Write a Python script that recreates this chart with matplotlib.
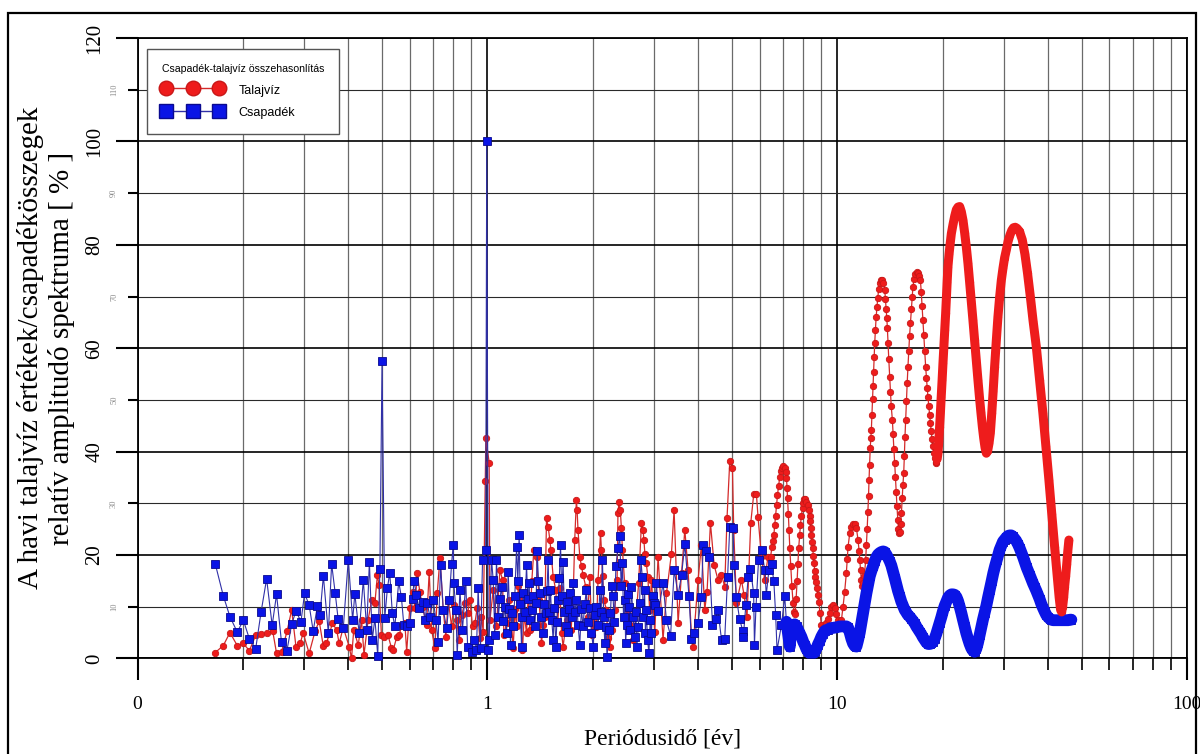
import numpy as np
import matplotlib
matplotlib.use("Agg")
import matplotlib.pyplot as plt
from matplotlib.lines import Line2D
from matplotlib.patches import Rectangle
from matplotlib.ticker import (FixedLocator, FixedFormatter, NullFormatter,
                               LogLocator, MultipleLocator, StrMethodFormatter)

# talajvíz spektrum (periódus [év], relatív amplitúdó [%])
talaj_noisy = [
    (0.1665, 1.1), (0.1759, 2.5), (0.1837, 5.0), (0.1928, 2.5), (0.2007, 2.9), (0.2088, 1.5),
    (0.2180, 4.6), (0.2259, 4.7), (0.2339, 5.0), (0.2433, 5.4), (0.2497, 1.0), (0.2580, 1.3),
    (0.2679, 5.4), (0.2758, 9.4), (0.2837, 2.3), (0.2915, 2.9), (0.2976, 4.9), (0.3095, 1.0),
    (0.3221, 5.4), (0.3307, 7.2), (0.3394, 2.5), (0.3467, 2.9), (0.3608, 6.8), (0.3710, 5.5),
    (0.3770, 2.9), (0.3873, 6.0), (0.4027, 2.3), (0.4090, 0.0), (0.4150, 5.5), (0.4275, 2.6),
    (0.4370, 7.4), (0.4440, 0.7), (0.4560, 7.4), (0.4670, 11.3), (0.4770, 10.7), (0.4850, 16.2),
    (0.4900, 14.2), (0.4980, 4.5), (0.5060, 4.2), (0.5200, 4.5), (0.5320, 2.0), (0.5380, 1.6),
    (0.5510, 4.2), (0.5600, 4.5), (0.5690, 6.5), (0.5810, 6.8), (0.5880, 1.3), (0.6000, 9.7),
    (0.6110, 12.9), (0.6210, 9.7), (0.6300, 16.5), (0.6410, 12.9), (0.6530, 10.0), (0.6700, 6.5),
    (0.6820, 16.8), (0.6930, 5.5), (0.7080, 2.0), (0.7190, 12.6), (0.7320, 19.4), (0.7480, 9.4),
    (0.7610, 4.2), (0.7730, 11.3), (0.7900, 6.2), (0.8020, 10.3), (0.8170, 7.4), (0.8310, 3.6),
    (0.8440, 8.4), (0.8620, 10.7), (0.8780, 8.7), (0.8910, 11.3), (0.9070, 6.2), (0.9210, 6.8),
    (0.9350, 9.7), (0.9520, 3.9), (0.9620, 8.1), (0.9730, 5.2), (0.9860, 34.3), (0.9900, 42.6),
    (1.0120, 37.9), (1.0170, 7.4), (1.039, 13.2), (1.062, 6.2), (1.086, 17.1), (1.105, 15.2),
    (1.115, 4.5), (1.135, 6.8), (1.154, 11.3), (1.170, 8.0), (1.185, 2.0), (1.200, 9.5),
    (1.212, 6.2), (1.225, 14.0), (1.238, 11.3), (1.260, 1.6), (1.275, 8.5), (1.294, 4.9),
    (1.308, 12.0), (1.323, 5.5), (1.340, 15.0), (1.358, 21.0), (1.382, 19.7), (1.406, 11.3),
    (1.428, 2.9), (1.445, 6.5), (1.459, 8.1), (1.476, 27.1), (1.492, 25.5), (1.509, 22.9),
    (1.519, 21.0), (1.542, 15.8), (1.569, 13.2), (1.590, 7.0), (1.611, 13.6), (1.630, 5.0),
    (1.646, 2.3), (1.684, 7.4), (1.713, 11.3), (1.735, 5.5), (1.758, 11.3), (1.777, 22.9),
    (1.797, 30.7), (1.805, 28.7), (1.816, 24.9), (1.837, 19.7), (1.859, 17.8), (1.877, 16.2),
    (1.911, 13.9), (1.935, 8.0), (1.962, 15.8), (1.990, 4.5), (2.028, 9.4), (2.050, 6.0),
    (2.072, 15.2), (2.106, 24.2), (2.119, 21.0), (2.135, 16.0), (2.153, 11.3), (2.190, 9.4),
    (2.210, 4.0), (2.237, 2.3), (2.276, 5.5), (2.312, 9.4), (2.349, 15.2), (2.362, 28.1),
    (2.379, 30.3), (2.399, 28.7), (2.416, 25.2), (2.433, 21.0), (2.469, 14.5), (2.495, 7.5),
    (2.524, 9.4), (2.564, 6.5), (2.607, 3.6), (2.665, 8.7), (2.706, 14.5), (2.757, 26.2),
    (2.786, 24.9), (2.802, 22.9), (2.820, 20.3), (2.847, 18.4), (2.875, 15.8), (2.910, 9.4),
    (2.945, 15.2), (3.010, 5.2), (3.076, 19.7), (3.178, 3.6), (3.251, 12.6), (3.359, 20.3),
    (3.418, 28.7), (3.509, 6.8), (3.590, 16.5), (3.668, 24.9), (3.748, 17.1), (3.833, 4.2),
    (3.873, 2.3), (4.002, 15.2), (4.093, 22.0), (4.182, 9.4), (4.246, 12.9), (4.342, 26.2),
    (4.450, 18.0), (4.564, 15.2), (4.667, 16.2), (4.770, 13.9), (4.842, 27.1), (4.930, 38.1),
    (5.018, 36.8), (5.061, 24.9), (5.152, 10.7), (5.324, 15.2), (5.416, 12.3), (5.524, 8.1),
    (5.661, 26.2), (5.773, 31.8), (5.876, 31.8), (5.938, 27.4), (6.073, 19.7), (6.206, 15.2),
    (6.342, 19.7),
]

talaj_peaks = [
    (6.45, 19.7), (6.51, 21.6), (6.55, 22.8), (6.59, 23.9), (6.63, 25.8), (6.67, 27.6),
    (6.71, 29.6), (6.75, 31.6), (6.80, 33.4), (6.85, 35.0), (6.90, 36.2), (6.95, 36.9),
    (7.01, 37.2), (7.08, 36.9), (7.13, 36.0), (7.16, 34.9), (7.19, 33.0), (7.21, 31.0),
    (7.25, 28.0), (7.28, 24.9), (7.32, 21.3), (7.37, 17.8), (7.42, 14.0), (7.48, 10.7),
    (7.53, 9.0), (7.58, 8.6), (7.63, 11.5), (7.68, 15.0), (7.72, 18.3), (7.76, 21.3),
    (7.81, 23.8), (7.85, 25.8), (7.90, 27.6), (7.96, 29.1), (8.00, 30.1), (8.04, 30.8),
    (8.10, 30.9), (8.17, 30.3), (8.24, 29.6), (8.31, 28.7), (8.35, 27.6), (8.38, 26.5),
    (8.41, 25.2), (8.44, 23.9), (8.48, 22.6), (8.51, 21.3), (8.55, 19.8), (8.59, 18.4),
    (8.62, 17.0), (8.66, 15.8), (8.71, 14.7), (8.76, 13.6), (8.81, 12.3), (8.86, 11.0),
    (8.93, 8.7), (9.01, 6.5), (9.10, 5.8), (9.20, 6.2), (9.31, 6.8), (9.40, 7.6),
    (9.52, 8.7), (9.63, 10.0), (9.73, 10.3), (9.84, 9.8), (9.94, 8.6), (10.05, 7.4),
    (10.17, 7.0), (10.28, 7.4), (10.39, 10.0), (10.50, 12.8), (10.62, 16.5), (10.68, 19.2),
    (10.74, 21.6), (10.86, 24.2), (10.98, 25.5), (11.10, 26.1), (11.22, 26.0), (11.35, 25.2),
    (11.47, 22.9), (11.55, 20.8), (11.60, 19.1), (11.66, 17.2), (11.72, 15.2), (11.80, 14.0),
    (11.88, 14.6), (11.96, 16.0), (12.06, 19.0), (12.12, 22.0), (12.18, 25.0), (12.24, 28.4),
    (12.29, 31.4), (12.33, 34.5), (12.38, 37.5), (12.43, 40.8), (12.48, 42.6), (12.52, 44.2),
    (12.57, 47.0), (12.62, 50.2), (12.66, 52.6), (12.71, 55.5), (12.76, 58.4), (12.80, 61.0),
    (12.86, 63.5), (12.92, 66.0), (12.99, 68.0), (13.06, 69.8), (13.14, 71.4), (13.23, 72.6),
    (13.34, 73.2), (13.46, 73.2), (13.56, 72.6), (13.67, 71.3), (13.74, 69.5), (13.80, 67.5),
    (13.86, 65.9), (13.91, 64.0), (13.97, 61.0), (14.04, 58.0), (14.13, 54.5), (14.20, 51.5),
    (14.27, 48.8), (14.38, 46.1), (14.44, 43.5), (14.52, 40.5), (14.60, 37.8), (14.67, 35.0),
    (14.75, 32.2), (14.82, 29.4), (14.90, 26.8), (14.96, 25.0), (15.02, 24.2), (15.09, 24.5),
    (15.17, 26.0), (15.26, 28.1), (15.34, 31.0), (15.41, 33.5), (15.49, 35.8), (15.56, 39.2),
    (15.62, 42.8), (15.69, 46.1), (15.77, 49.8), (15.85, 53.2), (15.93, 56.4), (16.02, 59.5),
    (16.10, 62.3), (16.19, 64.8), (16.28, 67.5), (16.37, 69.9), (16.46, 71.9), (16.58, 73.3),
    (16.72, 74.4), (16.86, 74.8), (16.99, 74.6), (17.14, 74.0), (17.29, 73.2), (17.39, 70.8),
    (17.48, 68.2), (17.58, 65.5), (17.68, 62.5), (17.79, 59.5), (17.90, 56.4), (17.99, 54.3),
    (18.08, 52.4), (18.17, 50.6), (18.27, 48.8), (18.37, 47.1), (18.46, 45.5), (18.57, 43.9),
    (18.67, 42.4), (18.78, 41.0), (18.89, 39.8), (19.00, 38.7), (19.12, 37.8), (19.22, 38.0),
    (19.31, 38.6),
]

talaj_band = [
    (19.41, 39.7), (19.52, 42.0), (19.62, 44.7), (19.72, 47.4), (19.83, 50.6), (19.95, 53.9),
    (20.06, 57.1), (20.18, 60.3), (20.30, 63.6), (20.42, 66.8), (20.52, 69.8), (20.62, 72.8),
    (20.73, 75.8), (20.88, 78.2), (21.04, 80.3), (21.20, 82.2), (21.44, 84.0), (21.68, 85.6),
    (21.91, 86.8), (22.15, 87.3), (22.39, 87.4), (22.64, 86.4), (22.88, 84.8), (23.14, 82.3),
    (23.40, 79.5), (23.65, 76.4), (23.90, 72.9), (24.16, 69.2), (24.43, 65.5), (24.70, 61.6),
    (24.97, 57.8), (25.25, 53.9), (25.50, 50.6), (25.75, 47.6), (26.00, 44.8), (26.23, 42.6),
    (26.46, 40.8), (26.69, 39.7), (26.93, 40.2), (27.16, 41.6), (27.40, 43.6), (27.66, 47.5),
    (27.92, 51.8), (28.18, 56.4), (28.50, 61.5), (28.80, 66.0), (29.12, 69.8), (29.45, 73.1),
    (29.78, 75.5), (30.10, 77.5), (30.44, 79.0), (30.80, 80.7), (31.18, 81.9), (31.55, 82.8),
    (31.90, 83.3), (32.28, 83.4), (32.64, 83.2), (33.20, 82.6), (33.80, 81.0), (34.40, 78.2),
    (35.00, 74.5), (35.65, 70.0), (36.30, 65.3), (37.08, 60.3), (37.90, 53.8), (38.73, 47.4),
    (39.50, 41.0), (40.29, 34.5), (41.05, 28.0), (41.83, 21.6), (42.65, 15.2), (43.10, 11.8),
    (43.51, 9.4), (43.80, 9.0), (44.10, 10.0), (44.40, 11.8), (44.67, 13.9), (45.00, 16.0),
    (45.30, 18.2), (45.60, 20.6), (45.95, 22.9),
]

# csapadék spektrum
csap_noisy = [
    (0.1668, 18.3), (0.1759, 12.1), (0.1837, 8.1), (0.1928, 5.1), (0.2007, 7.4), (0.2088, 3.8),
    (0.2177, 1.9), (0.2254, 8.9), (0.2339, 15.4), (0.2426, 6.4), (0.2497, 12.4), (0.2580, 3.1),
    (0.2673, 1.5), (0.2758, 6.6), (0.2837, 9.2), (0.2932, 7.1), (0.3003, 12.6), (0.3095, 10.3),
    (0.3178, 5.3), (0.3268, 10.2), (0.3324, 8.4), (0.3398, 16.0), (0.3511, 4.9), (0.3588, 18.3),
    (0.3674, 12.6), (0.3745, 7.6), (0.3873, 5.8), (0.4004, 19.1), (0.4120, 7.4), (0.4180, 12.5),
    (0.4300, 4.9), (0.4420, 15.2), (0.4520, 5.5), (0.4600, 18.7), (0.4690, 3.6), (0.4770, 7.8),
    (0.4860, 0.5), (0.4930, 17.4), (0.5000, 57.5), (0.5090, 7.8), (0.5180, 13.6), (0.5260, 16.6),
    (0.5350, 8.7), (0.5440, 6.2), (0.5580, 14.9), (0.5680, 11.8), (0.5770, 6.5), (0.5880, 6.2),
    (0.6000, 6.8), (0.6110, 11.5), (0.6170, 15.0), (0.6270, 12.3), (0.6380, 9.7), (0.6530, 11.0),
    (0.6630, 7.4), (0.6730, 10.7), (0.6850, 8.1), (0.7000, 11.3), (0.7130, 7.4), (0.7230, 3.2),
    (0.7350, 18.1), (0.7480, 9.4), (0.7650, 5.8), (0.7780, 11.3), (0.7900, 18.2), (0.7990, 22.0),
    (0.8020, 14.5), (0.8130, 9.4), (0.8200, 0.7), (0.8350, 13.2), (0.8490, 5.5), (0.8680, 14.9),
    (0.8780, 2.3), (0.9010, 1.3), (0.9150, 3.6), (0.9310, 1.6), (0.9410, 13.6), (0.9560, 2.0),
    (0.9690, 19.1), (0.9890, 21.0), (0.9960, 100.0), (1.0060, 1.6), (1.0120, 3.6), (1.0280, 19.1),
    (1.039, 15.2), (1.050, 4.5), (1.062, 19.1), (1.075, 8.0), (1.086, 11.5), (1.098, 13.9),
    (1.110, 7.2), (1.122, 10.0), (1.135, 5.0), (1.147, 16.8), (1.156, 9.5), (1.165, 2.6),
    (1.175, 8.8), (1.185, 6.2), (1.198, 12.0), (1.212, 21.6), (1.222, 15.0), (1.233, 23.9),
    (1.242, 10.5), (1.252, 2.3), (1.260, 8.0), (1.266, 12.6), (1.280, 9.0), (1.294, 18.1),
    (1.305, 11.5), (1.317, 14.5), (1.327, 7.5), (1.338, 9.4), (1.352, 12.0), (1.367, 6.2),
    (1.378, 10.8), (1.388, 20.7), (1.400, 15.0), (1.412, 12.6), (1.428, 8.0), (1.443, 4.9),
    (1.456, 10.5), (1.469, 8.7), (1.480, 13.0), (1.492, 19.1), (1.503, 9.0), (1.515, 13.2),
    (1.528, 7.5), (1.542, 3.6), (1.555, 9.8), (1.569, 2.3), (1.580, 7.0), (1.593, 11.3),
    (1.606, 15.5), (1.619, 22.0), (1.632, 12.0), (1.646, 18.7), (1.660, 9.0), (1.676, 6.2),
    (1.690, 11.0), (1.701, 5.2), (1.715, 9.5), (1.728, 12.6), (1.743, 8.0), (1.758, 14.5),
    (1.777, 9.0), (1.797, 11.3), (1.817, 6.5), (1.837, 2.6), (1.857, 9.5), (1.877, 6.2),
    (1.898, 10.5), (1.919, 13.2), (1.940, 7.0), (1.962, 9.7), (1.984, 5.0), (2.006, 2.3),
    (2.028, 8.5), (2.051, 10.0), (2.074, 6.5), (2.097, 13.2), (2.115, 9.0), (2.133, 19.1),
    (2.150, 8.0), (2.166, 2.9), (2.182, 6.0), (2.199, 0.3), (2.223, 5.5), (2.248, 8.7),
    (2.266, 14.0), (2.286, 12.0), (2.308, 7.0), (2.330, 17.8), (2.362, 21.3), (2.391, 23.6),
    (2.412, 14.0), (2.433, 18.4), (2.450, 8.0), (2.469, 11.3), (2.485, 3.0), (2.499, 6.5),
    (2.520, 12.5), (2.540, 10.0), (2.560, 5.5), (2.580, 13.9), (2.608, 8.0), (2.636, 4.2),
    (2.655, 9.0), (2.675, 2.3), (2.700, 6.0), (2.723, 10.7), (2.748, 19.0), (2.772, 15.8),
    (2.790, 8.0), (2.815, 13.2), (2.830, 5.0), (2.847, 9.4), (2.870, 3.5), (2.897, 1.0),
    (2.920, 7.5), (2.945, 4.9), (2.970, 12.0), (2.990, 10.7), (3.010, 10.3), (3.040, 14.5),
    (3.08, 9.1), (3.18, 14.5), (3.25, 7.4), (3.34, 4.4), (3.42, 17.1), (3.51, 12.3),
    (3.59, 16.2), (3.67, 22.1), (3.77, 12.0), (3.83, 3.8), (3.90, 4.9), (4.00, 6.9),
    (4.09, 11.8), (4.14, 22.0), (4.22, 20.7), (4.31, 19.7), (4.40, 6.5), (4.49, 7.6),
    (4.56, 9.4), (4.67, 3.6), (4.77, 3.8), (4.86, 15.7), (4.93, 25.4), (5.04, 25.2),
    (5.07, 18.1), (5.15, 11.8), (5.26, 7.6), (5.37, 5.4), (5.39, 4.1), (5.48, 10.3),
    (5.57, 15.8), (5.65, 17.4), (5.77, 12.6), (5.80, 2.6), (5.86, 10.0), (5.96, 19.1),
    (6.08, 21.0), (6.21, 17.1), (6.27, 12.3), (6.38, 17.1), (6.49, 18.2), (6.59, 14.9),
    (6.67, 8.4), (6.73, 1.6), (6.93, 6.5), (7.08, 12.0), (7.16, 7.1),
]

csap_band = [
    (7.32, 2.3), (7.40, 6.5), (7.48, 6.2), (7.56, 6.6), (7.65, 6.2), (7.75, 5.4), (7.82, 4.8),
    (7.90, 4.2), (8.00, 3.2), (8.08, 2.6), (8.17, 1.8), (8.26, 1.3), (8.35, 1.0), (8.44, 0.9),
    (8.53, 1.0), (8.62, 1.3), (8.72, 1.9), (8.81, 2.7), (8.91, 3.4), (9.01, 4.2), (9.11, 4.8),
    (9.21, 5.3), (9.31, 5.5), (9.41, 5.6), (9.52, 5.8), (9.63, 5.9), (9.73, 5.9), (9.84, 6.0),
    (9.95, 6.0), (10.06, 6.1), (10.17, 6.2), (10.28, 6.2), (10.39, 6.2), (10.51, 6.2),
    (10.62, 6.2), (10.74, 6.0), (10.86, 5.0), (10.98, 3.8), (11.10, 2.9), (11.22, 2.4),
    (11.35, 2.3), (11.47, 3.5), (11.60, 5.0), (11.72, 6.8), (11.85, 8.8), (11.99, 10.8),
    (12.12, 12.6), (12.26, 14.3), (12.39, 15.9), (12.52, 16.9), (12.66, 17.8), (12.80, 18.8),
    (12.94, 19.6), (13.08, 20.1), (13.23, 20.4), (13.38, 20.6), (13.53, 20.7), (13.67, 20.6),
    (13.82, 20.1), (13.97, 19.5), (14.13, 18.8), (14.28, 18.0), (14.44, 16.8), (14.60, 15.6),
    (14.76, 14.3), (14.92, 13.1), (15.09, 12.0), (15.25, 11.0), (15.42, 10.2), (15.59, 9.4),
    (15.76, 8.9), (15.93, 8.4), (16.11, 8.1), (16.29, 7.7), (16.46, 7.3), (16.65, 6.8),
    (16.83, 6.2), (17.01, 5.7), (17.20, 5.2), (17.39, 4.7), (17.58, 4.1), (17.78, 3.6),
    (17.98, 3.1), (18.18, 2.8), (18.38, 2.8), (18.58, 2.9), (18.78, 3.2), (18.98, 3.8),
    (19.19, 4.7), (19.41, 5.8), (19.63, 6.9), (19.85, 8.0), (20.07, 9.2), (20.29, 10.2),
    (20.52, 11.0), (20.75, 11.8), (20.98, 12.2), (21.21, 12.4), (21.44, 12.4), (21.68, 12.3),
    (21.92, 11.9), (22.16, 11.1), (22.40, 10.0), (22.64, 8.8), (22.88, 7.5), (23.14, 6.2),
    (23.39, 4.9), (23.65, 3.8), (23.91, 2.8), (24.17, 2.0), (24.43, 1.5), (24.70, 1.3),
    (24.97, 1.8), (25.25, 3.0), (25.53, 4.5), (25.81, 6.0), (26.10, 7.5), (26.39, 8.8),
    (26.69, 10.2), (26.99, 11.8), (27.30, 13.3), (27.62, 14.9), (27.94, 16.5), (28.25, 17.8),
    (28.57, 19.0), (28.88, 20.1), (29.12, 21.0), (29.45, 21.8), (29.78, 22.6), (30.10, 23.0),
    (30.44, 23.4), (30.78, 23.7), (31.10, 23.8), (31.44, 23.8), (31.77, 23.6), (32.10, 23.2),
    (32.45, 22.8), (32.80, 22.2), (33.21, 21.4), (33.60, 20.5), (34.00, 19.6), (34.40, 18.6),
    (34.80, 17.6), (35.20, 16.8), (35.48, 16.2), (35.90, 15.3), (36.30, 14.5), (36.70, 13.8),
    (37.08, 13.1), (37.50, 12.3), (37.90, 11.5), (38.30, 10.6), (38.73, 9.8), (39.15, 9.1),
    (39.61, 8.4), (40.05, 8.0), (40.47, 7.7), (40.93, 7.5), (41.40, 7.4), (41.85, 7.4),
    (42.30, 7.4), (42.80, 7.4), (43.30, 7.4), (43.80, 7.4), (44.30, 7.4), (44.80, 7.4),
    (45.30, 7.4), (45.80, 7.4), (46.30, 7.5), (46.70, 7.5),
]

x_major = [0.1, 1, 10, 100]
x_major_labels = ["0", "1", "10", "100"]

RED_LINE = "#d42a2a"
RED_FACE = "#ee1c1c"
RED_EDGE = "#c81818"
BLUE_LINE = "#3030a8"
BLUE_FACE = "#0a14e6"
BLUE_EDGE = "#0a0a90"

plt.rcParams["font.family"] = ["Liberation Serif", "DejaVu Serif"]

fig = plt.figure(figsize=(12, 7.54), dpi=100)
ax = fig.add_axes([0.1146, 0.1267, 0.8746, 0.8229])

talaj = np.array(talaj_noisy + talaj_peaks + talaj_band).T
talaj_thick = np.array(talaj_peaks[-1:] + talaj_band).T
csap = np.array(csap_noisy + csap_band).T
csap_thick = np.array(csap_noisy[-1:] + csap_band).T

ax.plot(talaj[0], talaj[1], color=RED_LINE, lw=0.9, marker="o", ms=4.6,
        mfc=RED_FACE, mec=RED_EDGE, mew=0.6, zorder=3, clip_on=False)
ax.plot(csap[0], csap[1], color=BLUE_LINE, lw=0.8, marker="s", ms=5.8,
        mfc=BLUE_FACE, mec=BLUE_EDGE, mew=0.6, zorder=4, clip_on=False)
ax.plot(csap_thick[0], csap_thick[1], color=BLUE_FACE, lw=8.5,
        solid_joinstyle="round", solid_capstyle="round", zorder=4)
ax.plot(talaj_thick[0], talaj_thick[1], color=RED_FACE, lw=6.5,
        solid_joinstyle="round", solid_capstyle="round", zorder=5)

ax.set_xscale("log")
ax.set_xlim(0.1, 100)
ax.set_ylim(0, 120)

ax.xaxis.set_major_locator(FixedLocator(x_major))
ax.xaxis.set_major_formatter(FixedFormatter(x_major_labels))
ax.xaxis.set_minor_locator(LogLocator(base=10, subs=range(2, 10)))
ax.xaxis.set_minor_formatter(NullFormatter())
ax.yaxis.set_major_locator(MultipleLocator(20))
ax.yaxis.set_minor_locator(MultipleLocator(10))
ax.yaxis.set_major_formatter(StrMethodFormatter("{x:.0f}"))
ax.yaxis.set_minor_formatter(StrMethodFormatter("{x:.0f}"))

ax.grid(which="major", axis="both", color="black", lw=1.2, zorder=1)
ax.grid(which="minor", axis="x", color="#6a6a6a", lw=0.9, zorder=1)
ax.grid(which="minor", axis="y", color="#2a2a2a", lw=0.8, zorder=1)
ax.set_axisbelow(True)

ax.tick_params(axis="y", which="major", length=16, width=1.5, pad=8,
               labelsize=15, labelrotation=90)
ax.tick_params(axis="y", which="minor", length=7, width=1.5, pad=7,
               labelsize=6, labelcolor="#8a8a8a", labelrotation=90)
ax.tick_params(axis="x", which="major", length=16, width=1.5, pad=11, labelsize=14)
ax.tick_params(axis="x", which="minor", length=8.5, width=1.2)
for lbl in ax.yaxis.get_majorticklabels() + ax.yaxis.get_minorticklabels():
    lbl.set_va("center")

for s in ax.spines.values():
    s.set_linewidth(1.3)

ax.set_ylabel("A havi talajvíz értékek/csapadékösszegek\nrelatív amplitudó spektruma [ % ]",
              fontsize=21, linespacing=1.15)
ax.yaxis.set_label_coords(-0.060, 0.5)
ax.set_xlabel("Periódusidő [év]", fontsize=17)
ax.xaxis.set_label_coords(0.5, -0.113)

handles = [
    Line2D([], [], color=RED_LINE, lw=1, marker="o", ms=10.5, mfc=RED_FACE, mec=RED_EDGE),
    Line2D([], [], color=BLUE_LINE, lw=1, marker="s", ms=10.5, mfc=BLUE_FACE, mec=BLUE_EDGE),
]
leg = ax.legend(handles, ["Talajvíz", "Csapadék"], title="Csapadék-talajvíz összehasonlítás",
                loc="upper left", bbox_to_anchor=(0.009, 0.982), borderaxespad=0,
                numpoints=3, handlelength=4.9, handleheight=1.4, handletextpad=1.2,
                labelspacing=0.65, borderpad=1.2, alignment="left", fancybox=False,
                framealpha=1, edgecolor="#555555",
                prop={"family": "Liberation Sans", "size": 9},
                title_fontproperties={"family": "Liberation Sans", "size": 7.6})
leg.get_frame().set_linewidth(1.0)
leg.set_zorder(10)

fig.patches.append(Rectangle((8 / 1200, -0.01), 1188 / 1200, 741 / 754 + 0.01,
                             transform=fig.transFigure, fill=False,
                             edgecolor="black", lw=1.6))

fig.savefig("out.png", dpi=100)
